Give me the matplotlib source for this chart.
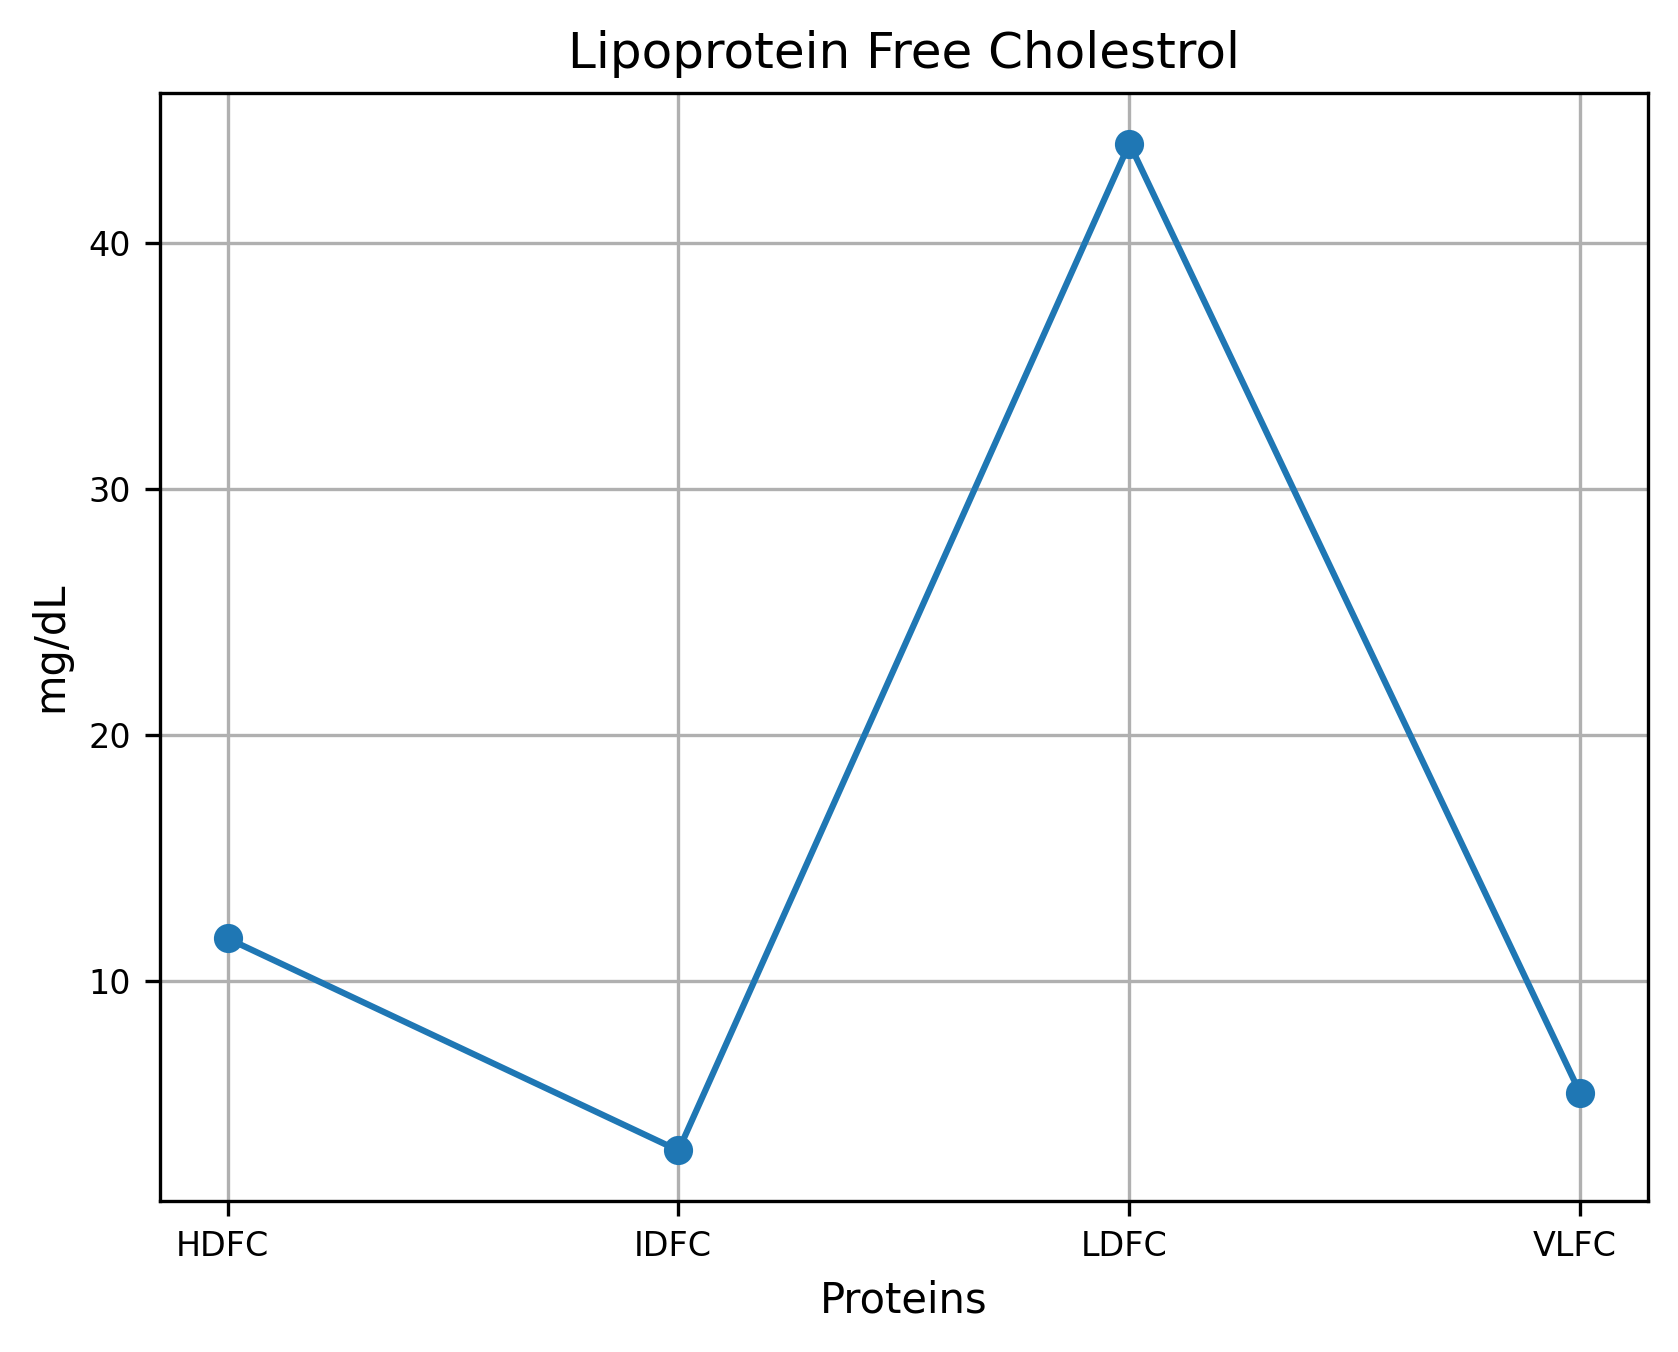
import matplotlib
matplotlib.use("Agg")
import matplotlib.pyplot as plt
from matplotlib.transforms import ScaledTranslation

# datos
proteinas = ["HDFC", "IDFC", "LDFC", "VLFC"]
valores = [11.72, 3.10, 44.04, 5.42]

fig, ax = plt.subplots(figsize=(1678 / 300, 1352 / 300), dpi=300)
fig.subplots_adjust(left=0.0953, right=0.9821, top=0.9311, bottom=0.1118)

ax.plot(proteinas, valores, marker="o")
ax.set_title("Lipoprotein Free Cholestrol")
ax.set_xlabel("Proteins")
ax.set_ylabel("mg/dL")
ax.tick_params(labelsize=8)
ax.grid(True)

# las etiquetas del eje x van un poco corridas a la izquierda
desplazamiento = ScaledTranslation(-1.3 / 72, 0, fig.dpi_scale_trans)
for etiqueta in ax.get_xticklabels():
    etiqueta.set_transform(etiqueta.get_transform() + desplazamiento)

fig.savefig("out.png", dpi=300)
